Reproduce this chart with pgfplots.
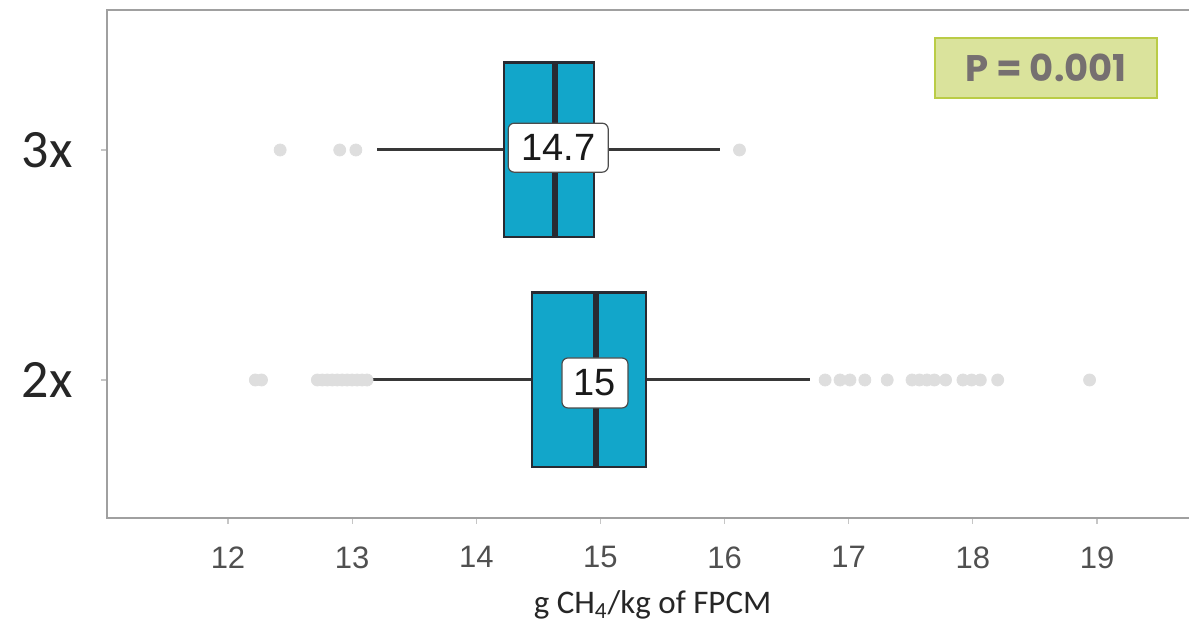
\documentclass[border=0pt]{standalone}
\usepackage{pgfplots}
\pgfplotsset{compat=1.18}
\usepgfplotslibrary{statistics}
\usepackage{fontspec}
\setmainfont{Liberation Sans}
\newfontfamily\carlito{Carlito}
\newfontfamily\poppins{Poppins}
\definecolor{boxc}{RGB}{18,166,202}
\definecolor{boxd}{RGB}{40,42,50}
\definecolor{outl}{RGB}{222,222,222}
\definecolor{axg}{RGB}{160,160,160}
\definecolor{tickg}{RGB}{80,80,80}
\definecolor{pfill}{RGB}{218,227,156}
\definecolor{pdraw}{RGB}{186,204,70}
\definecolor{ptext}{RGB}{118,112,112}
\begin{document}
\begin{tikzpicture}
\useasboundingbox (0,0) rectangle (594.5pt,312pt);
\begin{axis}[
  at={(53.5pt,53pt)}, anchor=south west,
  scale only axis, width=550pt, height=254pt,
  xmin=11.0253, xmax=19.886, ymin=-0.6, ymax=1.6087,
  xtick={12,13,14,15,16,17,18,19},
  ytick={0,1}, yticklabels={2x,3x},
  tick pos=left, tick align=outside, major tick length=3pt,
  tick style={color=axg!60, line width=0.6pt},
  axis line style={color=axg, line width=1.2pt},
  /pgf/number format/assume math mode=true,
  xticklabel style={font=\fontsize{15.5}{16}\selectfont, text=tickg, anchor=north, inner sep=0pt, yshift=-11pt},
  yticklabel style={font=\carlito\fontsize{27}{28}\selectfont, text=black!85, anchor=east, inner sep=0pt, xshift=-14pt},
  xlabel={g CH\textsubscript{4}/kg of FPCM},
  xlabel style={font=\carlito\fontsize{16.5}{17}\selectfont, text=black!85, at={(axis description cs:0.496,0)}, anchor=center, yshift=-43.5pt},
  clip=false,
]
% outliers
\addplot[only marks, mark=*, mark size=3pt, color=outl, mark options={draw=outl, fill=outl}] coordinates {
 (12.42,1) (12.90,1) (13.03,1) (16.12,1)
};
\addplot[only marks, mark=*, mark size=3pt, color=outl, mark options={draw=outl, fill=outl}] coordinates {
 (12.22,0) (12.27,0)
 (12.72,0) (12.76,0) (12.80,0) (12.84,0) (12.88,0) (12.92,0) (12.96,0) (13.00,0) (13.04,0) (13.08,0) (13.12,0)
 (16.81,0) (16.93,0) (17.01,0) (17.13,0) (17.31,0)
 (17.51,0) (17.57,0) (17.63,0) (17.69,0) (17.78,0)
 (17.92,0) (17.99,0) (18.06,0) (18.20,0) (18.94,0)
};
% boxes
\pgfplotsset{
  boxplot/every median/.style={line width=3pt, draw=boxd},
  boxplot/every box/.style={line width=1.1pt, draw=boxd, fill=boxc},
  boxplot/every whisker/.style={line width=1.5pt, draw=black!78},
}
\addplot[line width=1.5pt, draw=black!78, boxplot prepared={median=14.635, lower quartile=14.22, upper quartile=14.95,
  lower whisker=13.20, upper whisker=15.96, draw position=1, box extend=0.76,
  draw direction=x, whisker extend=0}] coordinates {};
\addplot[line width=1.5pt, draw=black!78, boxplot prepared={median=14.965, lower quartile=14.45, upper quartile=15.37,
  lower whisker=13.14, upper whisker=16.69, draw position=0, box extend=0.76,
  draw direction=x, whisker extend=0}] coordinates {};
% median labels
\node[fill=white, draw=black!70, line width=0.6pt, rounded corners=3pt, inner sep=0pt,
  minimum width=50pt, minimum height=24.5pt, font=\fontsize{19}{20}\selectfont, text=black!90]
  at (axis cs:14.66,1.01) {14.7};
\node[fill=white, draw=black!70, line width=0.6pt, rounded corners=3pt, inner sep=0pt,
  minimum width=33pt, minimum height=25pt, font=\fontsize{19}{20}\selectfont, text=black!90]
  at (axis cs:14.956,-0.013) {15};
% P value box
\node[fill=pfill, draw=pdraw, line width=0.8pt, inner sep=0pt,
  minimum width=111pt, minimum height=30pt, font=\poppins\bfseries\fontsize{18.5}{19}\selectfont, text=ptext]
  at (axis cs:18.59,1.357) {P = 0.001};
\end{axis}
\end{tikzpicture}
\end{document}
